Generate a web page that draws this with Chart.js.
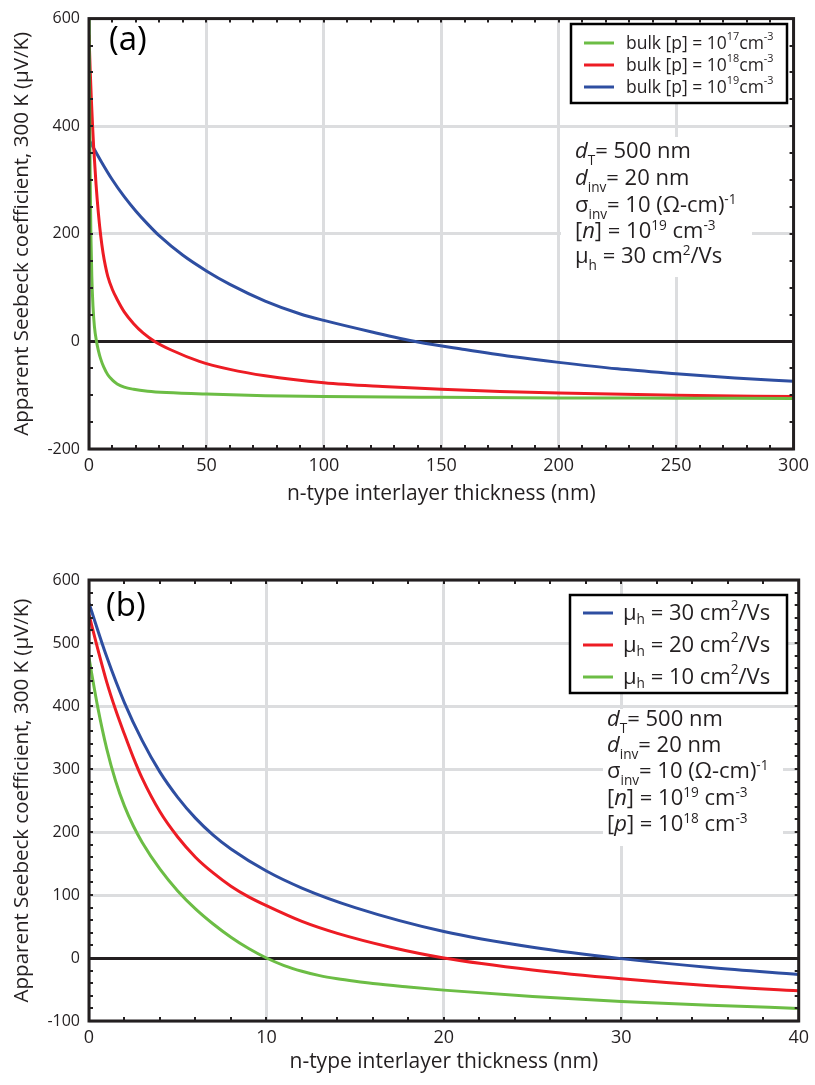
<!DOCTYPE html>
<html><head><meta charset="utf-8">
<script src="https://cdn.jsdelivr.net/npm/chart.js@4.4.1/dist/chart.umd.min.js"></script>
<style>
body{margin:0;background:#fff;width:815px;height:1085px;overflow:hidden;position:relative}
canvas{position:absolute;left:0}
</style></head>
<body>
<canvas id="ca" width="815" height="540" style="top:0"></canvas>
<canvas id="cb" width="815" height="545" style="top:540px"></canvas>
<script>
// ---------- Panel (a) data ----------
const xTicksA = [0, 50, 100, 150, 200, 250, 300];
const yTicksA = [-200, 0, 200, 400, 600];
const greenAX = [0, 0.25, 0.5, 0.8, 1.2, 1.7, 2.3, 3.2, 4, 5, 6.3, 8, 10, 12, 15, 19, 25, 33, 50, 75, 100, 150, 200, 250, 300];
const greenAY = [660, 450, 310, 200, 120, 65, 28, 0, -17, -33, -48, -62, -72, -79, -85, -89, -92.5, -95, -98, -101, -102.5, -104, -105, -105.5, -106];
const redAX = [0, 0.5, 1, 1.5, 2, 3, 4, 5, 6, 7, 8, 10, 12, 15, 19, 23, 28, 35, 47, 60, 75, 100, 125, 150, 175, 200, 250, 300];
const redAY = [570, 505, 450, 402, 360, 292, 238, 196, 164, 140, 121, 96, 78, 55, 33, 16, 0, -16, -37, -52, -64, -77, -84, -89, -93, -96, -100, -102.5];
const blueAX = [0, 5, 10, 15, 20, 25, 30, 40, 50, 60, 75, 90, 100, 120, 140, 160, 180, 200, 225, 250, 275, 300];
const blueAY = [375, 336, 300, 269, 242, 218, 196, 160, 131, 106, 75, 51, 39, 18, -1, -15, -28, -39, -51, -60, -68, -74];

// ---------- Panel (b) data ----------
const xTicksB = [0, 10, 20, 30, 40];
const yTicksB = [-100, 0, 100, 200, 300, 400, 500, 600];
const blueBX = [0, 1, 2, 3, 4, 5, 6, 7, 8, 10, 12, 15, 20, 25, 30, 35, 40];
const blueBY = [563, 478, 405, 345, 295, 255, 222, 195, 173, 138, 111, 80, 42, 17, -1, -15, -26];
const redBX = [0, 0.5, 1, 1.5, 2, 2.5, 3, 4, 5, 6, 7, 8, 9, 10, 12, 14, 17, 20, 25, 30, 35, 40];
const redBY = [545, 490, 438, 394, 355, 318, 285, 232, 192, 160, 135, 114, 97, 83, 58, 39, 17, 0, -19, -33, -44, -52];
const greenBX = [0, 0.5, 1, 1.5, 2, 2.5, 3, 4, 5, 6, 7, 8, 9, 10, 11, 12, 13, 14, 15, 16, 18, 20, 25, 30, 35, 40];
const greenBY = [476, 397, 332, 281, 241, 209.5, 183.5, 141, 106.5, 78, 54, 33, 15, 0, -12, -21, -28, -33, -37, -40.5, -46, -51, -61, -69, -75, -80];

const GREEN = '#6cbd45', RED = '#ed1c24', BLUE = '#2e4ea1';
const INK = '#231f20', GRID = '#dcdddf';
const SANS = "'Open Sans', 'Noto Sans', sans-serif";

function pts(xs, ys) { return xs.map((x, i) => ({x, y: ys[i]})); }

function drawRich(ctx, parts, x, y, size, family) {
  let cx = x;
  for (const p of parts) {
    const t = p[0], st = p[1] || '';
    let s = size, dy = 0, style = '';
    if (st.includes('sup')) { s = size * 0.62; dy = -size * 0.38; }
    if (st.includes('sub')) { s = size * 0.62; dy = size * 0.3; }
    if (st.includes('i')) style = 'italic ';
    ctx.font = style + s + 'px ' + family;
    ctx.fillText(t, cx, y + dy);
    cx += ctx.measureText(t).width;
  }
}

function makePlugin(cfg) {
  return {
    id: 'deco',
    beforeDatasetsDraw(chart) {
      const ctx = chart.ctx;
      ctx.save();
      ctx.fillStyle = '#fff';
      for (const r of cfg.whiteBoxes) ctx.fillRect(r[0], r[1], r[2] - r[0], r[3] - r[1]);
      ctx.fillStyle = INK;
      ctx.textBaseline = 'alphabetic';
      ctx.textAlign = 'left';
      cfg.notes.forEach((parts, i) => drawRich(ctx, parts, cfg.noteX, cfg.noteY[i], cfg.noteSize, SANS));
      ctx.restore();
    },
    afterDatasetsDraw(chart) {
      const {ctx, chartArea: a, scales: {x, y}} = chart;
      ctx.save();
      ctx.strokeStyle = INK;
      ctx.lineWidth = 2;
      const L = 4;
      ctx.beginPath();
      for (let k = 0; ; k++) {
        const v = x.min + k * cfg.xMinor;
        if (v > x.max + 1e-9) break;
        const px = Math.round(x.getPixelForValue(v));
        ctx.moveTo(px, a.bottom); ctx.lineTo(px, a.bottom - L);
        ctx.moveTo(px, a.top); ctx.lineTo(px, a.top + L);
      }
      for (let k = 0; ; k++) {
        const v = y.min + k * cfg.yMinor;
        if (v > y.max + 1e-9) break;
        const py = Math.round(y.getPixelForValue(v));
        ctx.moveTo(a.left, py); ctx.lineTo(a.left + L, py);
        ctx.moveTo(a.right, py); ctx.lineTo(a.right - L, py);
      }
      ctx.stroke();
      ctx.lineWidth = 3;
      ctx.strokeRect(a.left, a.top, a.right - a.left, a.bottom - a.top);

      // legend
      const lg = cfg.legend;
      ctx.fillStyle = '#fff';
      ctx.fillRect(lg.box[0], lg.box[1], lg.box[2] - lg.box[0], lg.box[3] - lg.box[1]);
      ctx.lineWidth = 2.5;
      ctx.strokeStyle = '#000';
      ctx.strokeRect(lg.box[0], lg.box[1], lg.box[2] - lg.box[0], lg.box[3] - lg.box[1]);
      ctx.textBaseline = 'middle';
      lg.items.forEach((it, i) => {
        const yy = lg.rows[i];
        ctx.strokeStyle = it.color;
        ctx.lineWidth = 3;
        ctx.beginPath(); ctx.moveTo(lg.lineX[0], yy); ctx.lineTo(lg.lineX[1], yy); ctx.stroke();
        ctx.fillStyle = INK;
        drawRich(ctx, it.parts, lg.textX, yy + 1, lg.size, SANS);
      });
      // panel label
      ctx.textBaseline = 'middle';
      ctx.fillStyle = '#000';
      ctx.font = '33px ' + SANS;
      ctx.fillText(cfg.label, cfg.labelPos[0], cfg.labelPos[1]);
      ctx.restore();
    }
  };
}

function makeChart(id, datasets, xTicks, yTicks, cfg, layoutPad, xHeight, xTitlePad) {
  const xmin = xTicks[0], xmax = xTicks[xTicks.length - 1];
  const ymin = yTicks[0], ymax = yTicks[yTicks.length - 1];
  return new Chart(document.getElementById(id), {
    type: 'line',
    data: {datasets},
    options: {
      responsive: false, animation: false, devicePixelRatio: 1,
      layout: {padding: layoutPad},
      elements: {point: {radius: 0}, line: {borderWidth: 3, cubicInterpolationMode: 'monotone'}},
      plugins: {legend: {display: false}, tooltip: {enabled: false}},
      scales: {
        x: {
          type: 'linear', min: xmin, max: xmax,
          afterBuildTicks: s => { s.ticks = xTicks.map(v => ({value: v})); },
          afterFit: s => { s.height = xHeight; },
          border: {display: false},
          grid: {color: GRID, lineWidth: 3, drawTicks: false},
          ticks: {color: INK, padding: 6, maxRotation: 0, font: {family: SANS, size: 18}},
          title: {display: true, text: 'n-type interlayer thickness (nm)', color: INK,
                  font: {family: SANS, size: 21}, padding: {top: 0, bottom: xTitlePad}}
        },
        y: {
          type: 'linear', min: ymin, max: ymax,
          afterBuildTicks: s => { s.ticks = yTicks.map(v => ({value: v})); },
          afterFit: s => { s.width = 89; },
          border: {display: false},
          grid: {
            color: c => (c.tick && c.tick.value === 0) ? INK : GRID,
            lineWidth: 3, drawTicks: false
          },
          ticks: {color: INK, padding: 9, font: {family: SANS, size: 16}},
          title: {display: true, text: 'Apparent Seebeck coefficient, 300 K (μV/K)', color: INK,
                  font: {family: SANS, size: 20.5}, padding: {top: 10, bottom: 0}}
        }
      }
    },
    plugins: [makePlugin(cfg)]
  });
}

const noteCommon = [
  [['d', 'i'], ['T', 'sub'], ['= 500 nm']],
  [['d', 'i'], ['inv', 'sub'], ['= 20 nm']],
  [['σ'], ['inv', 'sub'], ['= 10 (Ω-cm)'], ['-1', 'sup']],
  [['['], ['n', 'i'], ['] = 10'], ['19', 'sup'], [' cm'], ['-3', 'sup']]
];

// Panel (a)
makeChart('ca', [
  {label: 'bulk [p] = 10¹⁷cm⁻³', data: pts(greenAX, greenAY), borderColor: GREEN},
  {label: 'bulk [p] = 10¹⁸cm⁻³', data: pts(redAX, redAY), borderColor: RED},
  {label: 'bulk [p] = 10¹⁹cm⁻³', data: pts(blueAX, blueAY), borderColor: BLUE}
], xTicksA, yTicksA, {
  xMinor: 10, yMinor: 50,
  whiteBoxes: [[566, 137, 752, 224], [561, 224, 752, 277]],
  notes: noteCommon.concat([[['μ'], ['h', 'sub'], [' = 30 cm'], ['2', 'sup'], ['/Vs']]]),
  noteX: 575, noteY: [158, 185, 212, 238, 263], noteSize: 22,
  legend: {
    box: [571, 24, 787, 103], lineX: [584, 614], textX: 626, rows: [43, 65, 87], size: 17.5,
    items: [
      {color: GREEN, parts: [['bulk [p] = 10'], ['17', 'sup'], ['cm'], ['-3', 'sup']]},
      {color: RED, parts: [['bulk [p] = 10'], ['18', 'sup'], ['cm'], ['-3', 'sup']]},
      {color: BLUE, parts: [['bulk [p] = 10'], ['19', 'sup'], ['cm'], ['-3', 'sup']]}
    ]
  },
  label: '(a)', labelPos: [109, 41]
}, {top: 10, right: 15, left: 0, bottom: 0}, 91, 33);

// Panel (b)
makeChart('cb', [
  {label: 'μh = 30 cm²/Vs', data: pts(blueBX, blueBY), borderColor: BLUE},
  {label: 'μh = 20 cm²/Vs', data: pts(redBX, redBY), borderColor: RED},
  {label: 'μh = 10 cm²/Vs', data: pts(greenBX, greenBY), borderColor: GREEN}
], xTicksB, yTicksB, {
  xMinor: 2, yMinor: 20,
  whiteBoxes: [[603, 169, 783, 306]],
  notes: noteCommon.concat([[['['], ['p', 'i'], ['] = 10'], ['18', 'sup'], [' cm'], ['-3', 'sup']]]),
  noteX: 607, noteY: [186, 212, 238, 265, 291], noteSize: 22,
  legend: {
    box: [570, 55, 787, 153], lineX: [583, 613], textX: 623, rows: [73, 105, 137], size: 22,
    items: [
      {color: BLUE, parts: [['μ'], ['h', 'sub'], [' = 30 cm'], ['2', 'sup'], ['/Vs']]},
      {color: RED, parts: [['μ'], ['h', 'sub'], [' = 20 cm'], ['2', 'sup'], ['/Vs']]},
      {color: GREEN, parts: [['μ'], ['h', 'sub'], [' = 10 cm'], ['2', 'sup'], ['/Vs']]}
    ]
  },
  label: '(b)', labelPos: [106, 67]
}, {top: 40, right: 15, left: 0, bottom: 0}, 64, 10);
</script>
</body></html>
